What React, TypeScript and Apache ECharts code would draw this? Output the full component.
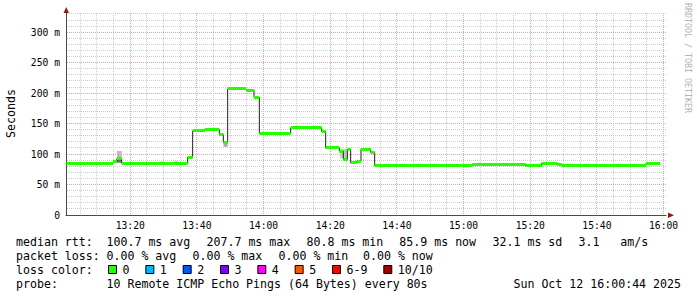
import React, { useEffect, useRef } from 'react';
import * as echarts from 'echarts';

// ---- data ----
const stepTimes = ['13:00:50', '13:14:50', '13:16:00', '13:17:26', '13:37:14', '13:38:44', '13:42:26', '13:46:44', '13:47:56', '13:49:14', '13:54:44', '13:57:08', '13:58:44', '14:08:08', '14:17:26', '14:18:38', '14:22:44', '14:23:56', '14:25:08', '14:26:08', '14:27:56', '14:29:14', '14:32:08', '14:33:20', '15:00:00', '15:02:44', '15:18:38', '15:23:26', '15:28:08', '15:29:26', '15:54:44'];
const medianValues = [85, 87, 92, 85, 95, 138, 140, 132, 119, 207, 205, 193, 134, 143, 137, 110, 105, 91, 108, 86, 88.5, 108, 103, 81, 82, 83.5, 81, 85, 83, 82, 85];
const endTime = '15:58:56';

const smokeStart = ['13:16:00', '13:16:00', '13:29:00', '13:33:00', '13:48:00', '14:23:00', '15:04:00', '15:22:30'];
const smokeEnd = ['13:17:26', '13:17:26', '13:30:20', '13:34:20', '13:49:14', '14:25:08', '15:05:20', '15:23:26'];
const smokeLow = [92, 86, 86, 86, 112, 93, 84, 81];
const smokeHigh = [105, 92, 88, 89, 118, 108, 86, 84];
const smokeShade = ['#bdbdbd', '#6a6a6a', '#d0d0d0', '#d0d0d0', '#a8a8a8', '#c4c4c4', '#cfcfcf', '#8a8a8a'];

const xTickLabels = ['13:20', '13:40', '14:00', '14:20', '14:40', '15:00', '15:20', '15:40', '16:00'];
const yTickValues = [0, 50, 100, 150, 200, 250, 300];

const rttStats = ['100.7 ms avg', '207.7 ms max', '80.8 ms min', '85.9 ms now', '32.1 ms sd', '3.1', 'am/s'];
const lossStats = ['0.00 % avg', '0.00 % max', '0.00 % min', '0.00 % now'];
const lossLabels = ['0', '1', '2', '3', '4', '5', '6-9', '10/10'];
const lossColors = ['#26ff00', '#00b8ff', '#0059ff', '#7e00ff', '#ff00ff', '#ff5500', '#ff0000', '#a10000'];
const probeText = '10 Remote ICMP Echo Pings (64 Bytes) every 80s';
const dateText = 'Sun Oct 12 16:00:44 2025';

// ---- helpers ----
const toSec = (s: string) => {
  const p = s.split(':').map(Number);
  return (p[0] - 13) * 3600 + p[1] * 60 + (p[2] || 0);
};
const X_MIN = toSec('13:00:44');
const X_MAX = toSec('16:00:44');
const Y_MAX = 331.5;

const MONO = '"DejaVu Sans Mono", monospace';
const GRID_MINOR = '#cccccc';
const GRID_MAJOR = '#e9a3a3';

export default function App() {
  const ref = useRef<HTMLDivElement>(null);
  useEffect(() => {
    if (!ref.current) return;
    const chart = echarts.init(ref.current, undefined, { renderer: 'svg' });

    const endSec = toSec(endTime);
    const lineData: number[][] = stepTimes.map((t, i) => [toSec(t), medianValues[i]]);
    lineData.push([endSec, medianValues[medianValues.length - 1]]);
    const bandData = stepTimes.map((t, i) => [toSec(t), i + 1 < stepTimes.length ? toSec(stepTimes[i + 1]) : endSec, medianValues[i]]);
    const smokeData = smokeStart.map((t, i) => ({ value: [toSec(t), toSec(smokeEnd[i]), smokeLow[i], smokeHigh[i]], shade: smokeShade[i] }));

    const gridData: number[][] = [];
    for (let v = 10; v < Y_MAX; v += 10) gridData.push([X_MIN, v, v % 50 === 0 ? 1 : 0]);
    for (let s = 300; s < X_MAX; s += 300) gridData.push([s, 0, s % 1200 === 0 ? 3 : 2]);

    const xTickSecs = xTickLabels.map(toSec);

    // legend graphics
    const g: any[] = [];
    const txt = (text: string, x: number, y: number, extra: any = {}) => ({
      type: 'text', x, y, silent: true,
      style: { text, fill: '#000', font: `11.6px ${MONO}`, textAlign: 'left', textVerticalAlign: 'middle', align: 'left', verticalAlign: 'middle', ...extra },
    });
    const rows = [242, 256, 270, 284];
    g.push(txt('median rtt:', 16, rows[0]));
    const rttX = [106.5, 206.5, 306.5, 399.3, 492.5, 578.5, 620.3];
    rttStats.forEach((s, i) => g.push(txt(s, rttX[i], rows[0])));
    g.push(txt('packet loss:', 16, rows[1]));
    const lossX = [106.5, 192.5, 278.5, 363];
    lossStats.forEach((s, i) => g.push(txt(s, lossX[i], rows[1])));
    g.push(txt('loss color:', 16, rows[2]));
    let bx = 108;
    lossLabels.forEach((l, i) => {
      g.push({ type: 'rect', silent: true, shape: { x: bx + 0.5, y: 265.5, width: 8, height: 8 }, style: { fill: lossColors[i], stroke: '#000', lineWidth: 1 } });
      g.push(txt(l, bx + 14.5, rows[2]));
      bx = bx + 15 + l.length * 7 + 15.33;
    });
    g.push(txt('probe:', 16, rows[3]));
    g.push(txt(probeText, 106.5, rows[3]));
    g.push(txt(dateText, 681, rows[3], { textAlign: 'right', align: 'right' }));
    // y axis title
    g.push({ type: 'text', x: 11, y: 113.5, rotation: Math.PI / 2, silent: true,
      style: { text: 'Seconds', fill: '#000', font: `11.6px ${MONO}`, textAlign: 'center', textVerticalAlign: 'middle', align: 'center', verticalAlign: 'middle' } });
    // watermark
    g.push({ type: 'text', x: 687.5, y: 58, rotation: -Math.PI / 2, silent: true,
      style: { text: 'RRDTOOL / TOBI OETIKER', fill: '#b4b4b4', font: `8.3px ${MONO}`, textAlign: 'center', textVerticalAlign: 'middle', align: 'center', verticalAlign: 'middle' } });
    // axis arrows
    g.push({ type: 'polygon', silent: true, shape: { points: [[63.5, 13], [69, 13], [66.25, 7]] }, style: { fill: '#8e1b1b' } });
    g.push({ type: 'polygon', silent: true, shape: { points: [[668, 212.5], [668, 218], [674, 215.25]] }, style: { fill: '#8e1b1b' } });

    chart.setOption({
      animation: false,
      backgroundColor: '#ffffff',
      grid: { left: 66, top: 13, width: 600, height: 202, containLabel: false },
      xAxis: {
        type: 'value', min: X_MIN, max: X_MAX,
        splitLine: { show: false },
        axisTick: { show: false },
        axisLine: { show: true, lineStyle: { color: '#4a4a4a', width: 1 } },
        axisLabel: {
          customValues: xTickSecs,
          margin: 5,
          color: '#000',
          fontFamily: MONO,
          fontSize: 9.7,
          formatter: (v: number) => {
            const i = xTickSecs.indexOf(Math.round(v));
            return i >= 0 ? xTickLabels[i] : '';
          },
        },
      },
      yAxis: {
        type: 'value', min: 0, max: Y_MAX, interval: 50,
        splitLine: { show: false },
        axisTick: { show: false },
        axisLine: { show: true, lineStyle: { color: '#4a4a4a', width: 1 } },
        axisLabel: {
          margin: 6,
          color: '#000',
          fontFamily: MONO,
          fontSize: 9.7,
          showMaxLabel: false,
          formatter: (v: number) => (yTickValues.indexOf(v) >= 0 ? (v === 0 ? '0' : `${v} m`) : ''),
        },
      },
      graphic: g,
      series: [
        {
          type: 'custom', z: 1, silent: true, clip: true,
          data: gridData,
          renderItem: (params: any, api: any) => {
            const cs = params.coordSys;
            const kind = api.value(2);
            const p = api.coord([api.value(0), api.value(1)]);
            if (kind < 2) {
              const y = Math.floor(p[1]) + 0.5;
              return { type: 'line', shape: { x1: cs.x + 1, y1: y, x2: cs.x + cs.width + 2, y2: y },
                style: { stroke: kind === 1 ? GRID_MAJOR : GRID_MINOR, lineWidth: 1, lineDash: [1, 1] } };
            }
            const x = Math.floor(p[0]) + 0.5;
            return { type: 'line', shape: { x1: x, y1: cs.y, x2: x, y2: cs.y + cs.height },
              style: { stroke: kind === 3 ? GRID_MAJOR : GRID_MINOR, lineWidth: 1, lineDash: [1, 1] } };
          },
        },
        {
          type: 'custom', z: 2, silent: true, clip: true,
          data: smokeData,
          renderItem: (params: any, api: any) => {
            const a = api.coord([api.value(0), api.value(3)]);
            const b = api.coord([api.value(1), api.value(2)]);
            return { type: 'rect', shape: { x: a[0], y: a[1], width: b[0] - a[0], height: b[1] - a[1] },
              style: { fill: smokeData[params.dataIndex].shade } };
          },
        },
        {
          type: 'line', z: 3, silent: true, step: 'end', showSymbol: false, symbol: 'none',
          data: lineData,
          lineStyle: { color: '#202020', width: 1 },
        },
        {
          type: 'custom', z: 4, silent: true, clip: true,
          data: bandData,
          renderItem: (params: any, api: any) => {
            const a = api.coord([api.value(0), api.value(2)]);
            const b = api.coord([api.value(1), api.value(2)]);
            return { type: 'rect', shape: { x: a[0], y: Math.round(a[1] - 1.5), width: b[0] - a[0], height: 3 },
              style: { fill: lossColors[0] } };
          },
        },
      ],
    });
    return () => chart.dispose();
  }, []);
  return <div ref={ref} style={{ position: 'fixed', left: 0, top: 0, width: 697, height: 297, background: '#fff' }} />;
}
